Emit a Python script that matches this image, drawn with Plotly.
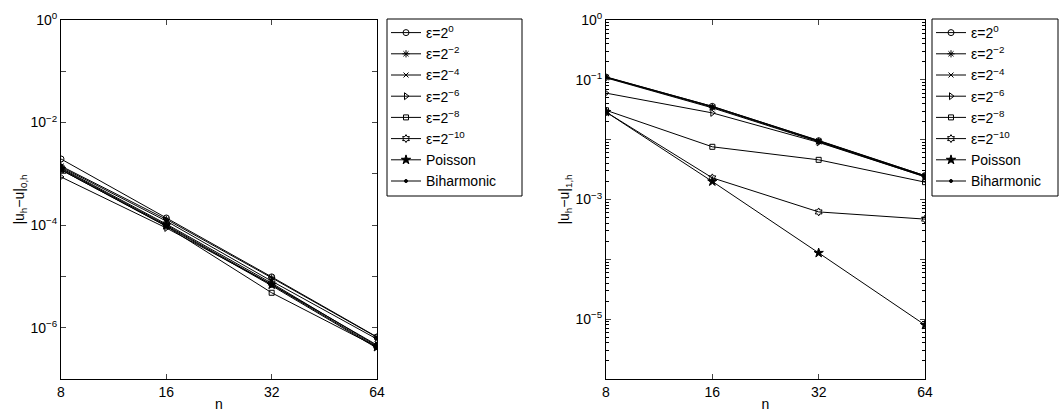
import plotly.graph_objects as go
import numpy as np

n_vals = [8, 16, 32, 64]
names = ["ε=2<sup>0</sup>", "ε=2<sup>−2</sup>", "ε=2<sup>−4</sup>", "ε=2<sup>−6</sup>",
         "ε=2<sup>−8</sup>", "ε=2<sup>−10</sup>", "Poisson", "Biharmonic"]

# |u_h - u|_{0,h}
err0_eps0 = [1.95e-3, 1.38e-4, 9.8e-6, 6.6e-7]
err0_eps2 = [1.42e-3, 1.30e-4, 9.4e-6, 6.5e-7]
err0_eps4 = [1.36e-3, 1.20e-4, 8.1e-6, 6.0e-7]
err0_eps6 = [8.7e-4, 8.8e-5, 7.0e-6, 4.6e-7]
err0_eps8 = [1.20e-3, 9.5e-5, 4.8e-6, 4.2e-7]
err0_eps10 = [1.30e-3, 1.05e-4, 7.4e-6, 4.4e-7]
err0_poisson = [1.25e-3, 1.00e-4, 6.9e-6, 4.2e-7]
err0_biharm = [1.20e-3, 9.6e-5, 6.6e-6, 4.0e-7]

# |u_h - u|_{1,h}
err1_eps0 = [0.111, 0.036, 9.6e-3, 2.50e-3]
err1_eps2 = [0.110, 0.035, 9.4e-3, 2.45e-3]
err1_eps4 = [0.108, 0.034, 9.2e-3, 2.40e-3]
err1_eps6 = [0.060, 0.028, 9.0e-3, 2.40e-3]
err1_eps8 = [0.031, 7.6e-3, 4.6e-3, 1.95e-3]
err1_eps10 = [0.029, 2.3e-3, 6.2e-4, 4.7e-4]
err1_poisson = [0.029, 2.0e-3, 1.28e-4, 8.0e-6]
err1_biharm = [0.112, 0.036, 9.7e-3, 2.50e-3]

left_series = [err0_eps0, err0_eps2, err0_eps4, err0_eps6, err0_eps8, err0_eps10, err0_poisson, err0_biharm]
right_series = [err1_eps0, err1_eps2, err1_eps4, err1_eps6, err1_eps8, err1_eps10, err1_poisson, err1_biharm]

symbols = ["circle-open", "asterisk-open", "x-thin-open", "triangle-right-open",
           "square-open", "hexagram-open", "star", "circle"]
sizes = [6, 6, 5, 6, 5, 6, 7, 3]

fig = go.Figure()
for i, (ys, name) in enumerate(zip(left_series, names)):
    fig.add_trace(go.Scatter(x=n_vals, y=ys, name=name, mode="lines+markers",
                             line=dict(color="black", width=1),
                             marker=dict(symbol=symbols[i], size=sizes[i], color="black",
                                         line=dict(color="black", width=1)),
                             xaxis="x", yaxis="y", legend="legend"))
for i, (ys, name) in enumerate(zip(right_series, names)):
    fig.add_trace(go.Scatter(x=n_vals, y=ys, name=name, mode="lines+markers",
                             line=dict(color="black", width=1),
                             marker=dict(symbol=symbols[i], size=sizes[i], color="black",
                                         line=dict(color="black", width=1)),
                             xaxis="x2", yaxis="y2", legend="legend2"))

W, H = 1061, 419
FAM = "Liberation Sans, Arial, sans-serif"
font = dict(family=FAM, size=14, color="black")
lfont = dict(family=FAM, size=14, color="black")

def xdom(a, b):
    return [a / W, b / W]

def py(p):
    return 1 - p / H

ydom = [py(379), py(20)]

left_tv = [10.0 ** k for k in range(0, -8, -1)]
left_tt = [("10<sup>%d</sup>" % k).replace("-", "−") if k % 2 == 0 else "" for k in range(0, -8, -1)]
right_tv = [10.0 ** k for k in range(0, -7, -1)]
right_lab = {0: "10<sup>0</sup>", -1: "10<sup>−1</sup>", -3: "10<sup>−3</sup>", -5: "10<sup>−5</sup>"}
right_tt = [right_lab.get(k, "") for k in range(0, -7, -1)]
right_minor = [m * 10.0 ** k for k in range(-6, 0) for m in range(2, 10)]

common_x = dict(type="log", range=[np.log10(8), np.log10(64)], tickmode="array",
                tickvals=n_vals, ticktext=[str(v) for v in n_vals], automargin=False,
                ticks="inside", ticklen=5, showline=True, linecolor="black", linewidth=1,
                mirror="ticks", showgrid=False, zeroline=False, tickfont=font,
                title=dict(text="n", font=font, standoff=0))

common_y = dict(type="log", tickmode="array", ticks="inside", ticklen=5, automargin=False,
                showline=True, linecolor="black", linewidth=1, mirror="ticks",
                showgrid=False, zeroline=False, tickfont=font)

legend_boxes = [(387, 522, 19, 196), (932, 1058, 19, 196)]
shapes = [dict(type="rect", xref="paper", yref="paper", x0=a / W, x1=b / W, y0=py(d), y1=py(c),
               line=dict(color="black", width=1), fillcolor="white", layer="below")
          for a, b, c, d in legend_boxes]

fig.update_layout(
    width=W, height=H, margin=dict(l=0, r=0, t=0, b=0, autoexpand=False),
    paper_bgcolor="white", plot_bgcolor="white", font=font, shapes=shapes,
    xaxis=dict(domain=xdom(61, 377), anchor="y", **common_x),
    xaxis2=dict(domain=xdom(606, 925), anchor="y2", **common_x),
    yaxis=dict(domain=ydom, anchor="x", range=[-7, 0], tickvals=left_tv, ticktext=left_tt,
               title=dict(text="|u<sub>h</sub>−u|<sub>0,h</sub>", font=font, standoff=2),
               **common_y),
    yaxis2=dict(domain=ydom, anchor="x2", range=[-6, 0], tickvals=right_tv, ticktext=right_tt,
                minor=dict(tickmode="array", tickvals=right_minor, ticks="inside", ticklen=3,
                           tickcolor="black", showgrid=False),
                title=dict(text="|u<sub>h</sub>−u|<sub>1,h</sub>", font=font, standoff=2),
                **common_y),
    legend=dict(x=386 / W, y=py(17), xanchor="left", yanchor="top",
                borderwidth=0, bgcolor="rgba(0,0,0,0)", font=lfont,
                tracegroupgap=0, itemwidth=30),
    legend2=dict(x=931 / W, y=py(17), xanchor="left", yanchor="top",
                 borderwidth=0, bgcolor="rgba(0,0,0,0)", font=lfont,
                 tracegroupgap=0, itemwidth=30),
)

fig.write_html("out.html", config={"displayModeBar": False},
               post_script="document.body.style.margin='0';document.body.style.padding='0';")
